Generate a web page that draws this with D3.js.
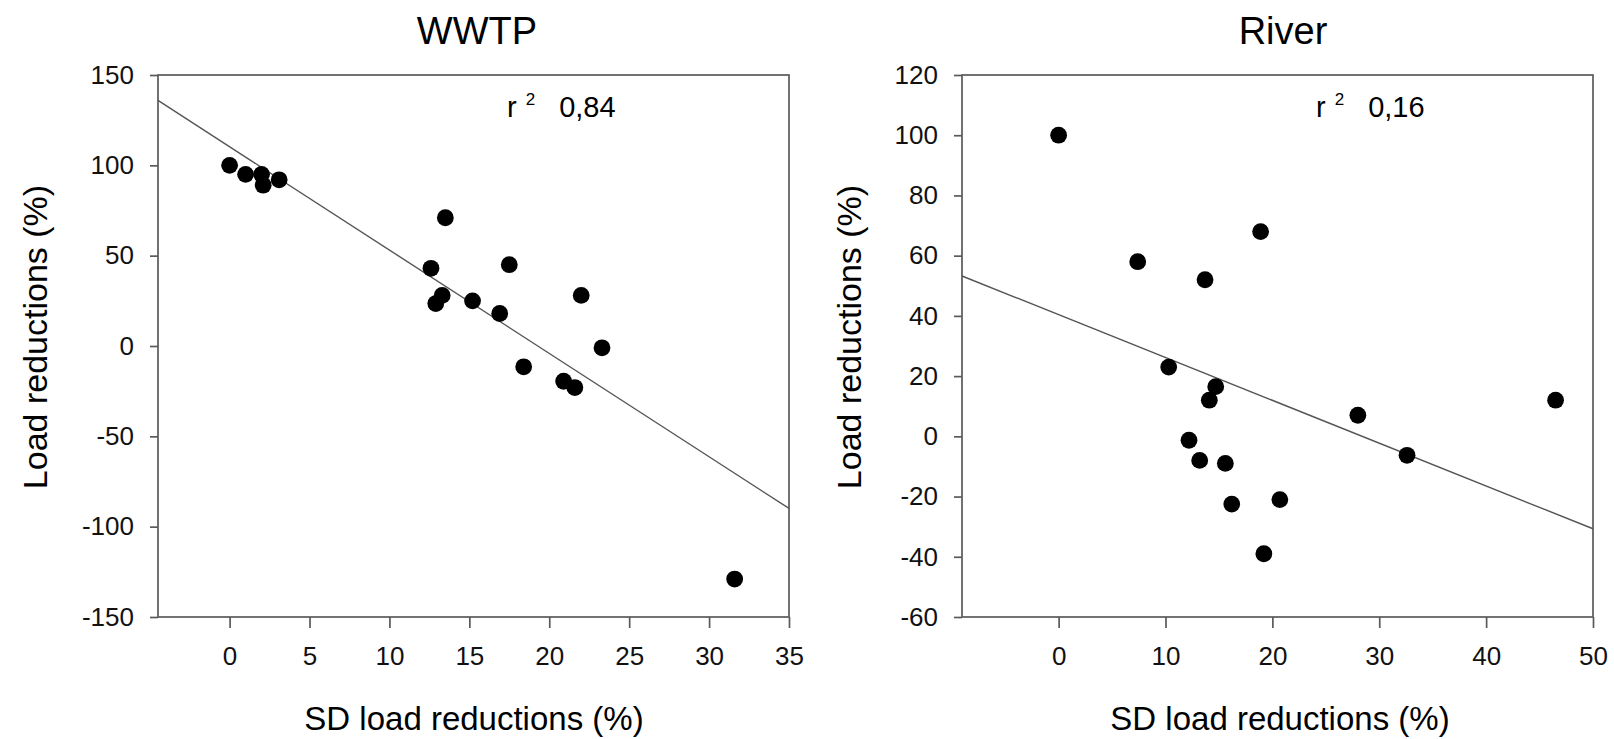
<!DOCTYPE html>
<html>
<head>
<meta charset="utf-8">
<script src="https://cdn.jsdelivr.net/npm/d3@7"></script>
<style>
  body { margin: 0; background: #fff; }
  svg { display: block; font-family: "Liberation Sans", Arial, sans-serif; }
  .axis path, .axis line { stroke: #5a5a5a; stroke-width: 1.7; }
  .axis text { fill: #111; font-size: 26px; }
  .frame { fill: none; stroke: #5a5a5a; stroke-width: 1.7; }
  .fit { stroke: #555; stroke-width: 1.4; }
  .dot { fill: #000; }
</style>
</head>
<body>
<script>
// WWTP panel values
var wwtpSD   = [0, 1, 2, 2.1, 3.1, 13.5, 12.6, 13.3, 12.9, 17.5, 15.2, 16.9, 22, 23.3, 18.4, 20.9, 21.6, 31.6];
var wwtpLoad = [100, 95, 95, 89, 92, 71, 43, 28, 23.5, 45, 25, 18, 28, -1, -11.5, -19.5, -23, -129];
var wwtpFit  = [110.3, -5.72];   // intercept, slope
var wwtpR2   = "0,84";
var wwtpXTicks = [0, 5, 10, 15, 20, 25, 30, 35];
var wwtpYTicks = [-150, -100, -50, 0, 50, 100, 150];

// River panel values
var riverSD   = [0, 7.4, 13.7, 18.9, 10.3, 14.7, 14.1, 12.2, 13.2, 15.6, 16.2, 20.7, 19.2, 28, 32.6, 46.5];
var riverLoad = [100, 58, 52, 68, 23, 16.5, 12, -1.3, -8, -9, -22.5, -21, -39, 7, -6.3, 12];
var riverFit  = [40.4, -1.422];
var riverR2   = "0,16";
var riverXTicks = [0, 10, 20, 30, 40, 50];
var riverYTicks = [-60, -40, -20, 0, 20, 40, 60, 80, 100, 120];

var svg = d3.select("body").append("svg")
    .attr("width", 1614)
    .attr("height", 739);

// gewone streepje als minteken, zoals in het origineel
var fmt = function(d) { return String(d); };

// teken een paneel
function panel(opt) {
    var x = d3.scaleLinear().domain(opt.xDomain).range([opt.left, opt.right]);
    var y = d3.scaleLinear().domain(opt.yDomain).range([opt.bottom, opt.top]);

    var g = svg.append("g");

    g.append("rect")
        .attr("class", "frame")
        .attr("x", opt.left)
        .attr("y", opt.top)
        .attr("width", opt.right - opt.left)
        .attr("height", opt.bottom - opt.top);

    g.append("g")
        .attr("class", "axis")
        .attr("transform", "translate(0," + opt.bottom + ")")
        .call(d3.axisBottom(x).tickValues(opt.xTicks).tickFormat(fmt).tickSize(11).tickPadding(19).tickSizeOuter(0))
        .select(".domain").remove();

    g.append("g")
        .attr("class", "axis")
        .attr("transform", "translate(" + opt.left + ",0)")
        .call(d3.axisLeft(y).tickValues(opt.yTicks).tickFormat(fmt).tickSize(8).tickPadding(16).tickSizeOuter(0))
        .select(".domain").remove();

    // regressielijn
    var x0 = opt.xDomain[0], x1 = opt.xDomain[1];
    g.append("line")
        .attr("class", "fit")
        .attr("x1", x(x0)).attr("y1", y(opt.fit[0] + opt.fit[1] * x0))
        .attr("x2", x(x1)).attr("y2", y(opt.fit[0] + opt.fit[1] * x1));

    var pts = opt.xs.map(function(d, i) { return { sd: d, load: opt.ys[i] }; });
    g.selectAll(".dot")
        .data(pts)
        .enter().append("circle")
        .attr("class", "dot")
        .attr("cx", function(d) { return x(d.sd); })
        .attr("cy", function(d) { return y(d.load); })
        .attr("r", 8.4);

    // titel
    g.append("text")
        .attr("x", opt.titleX).attr("y", 44)
        .attr("text-anchor", "middle")
        .style("font-size", "38px")
        .text(opt.title);

    // r2 label
    var r = g.append("text")
        .attr("x", opt.r2X).attr("y", 117)
        .style("font-size", "29px");
    r.append("tspan").text("r");
    r.append("tspan").attr("dx", 9).attr("dy", -12).style("font-size", "17px").text("2");
    r.append("tspan").attr("dx", 24).attr("dy", 12).text(opt.r2);

    g.append("text")
        .attr("x", opt.xTitleX).attr("y", 730)
        .attr("text-anchor", "middle")
        .style("font-size", "33px")
        .text("SD load reductions (%)");

    g.append("text")
        .attr("transform", "translate(" + opt.yTitleX + ",337) rotate(-90)")
        .attr("text-anchor", "middle")
        .style("font-size", "34px")
        .text("Load reductions (%)");
}

panel({
    xs: wwtpSD, ys: wwtpLoad, fit: wwtpFit, r2: wwtpR2,
    xDomain: [-4.48, 35], yDomain: [-150, 150],
    xTicks: wwtpXTicks, yTicks: wwtpYTicks,
    left: 158, right: 789, top: 75, bottom: 617,
    title: "WWTP", titleX: 477, r2X: 507, xTitleX: 474, yTitleX: 47
});

panel({
    xs: riverSD, ys: riverLoad, fit: riverFit, r2: riverR2,
    xDomain: [-9.04, 50], yDomain: [-60, 120],
    xTicks: riverXTicks, yTicks: riverYTicks,
    left: 962, right: 1593, top: 75, bottom: 617,
    title: "River", titleX: 1283, r2X: 1316, xTitleX: 1280, yTitleX: 861
});
</script>
</body>
</html>
